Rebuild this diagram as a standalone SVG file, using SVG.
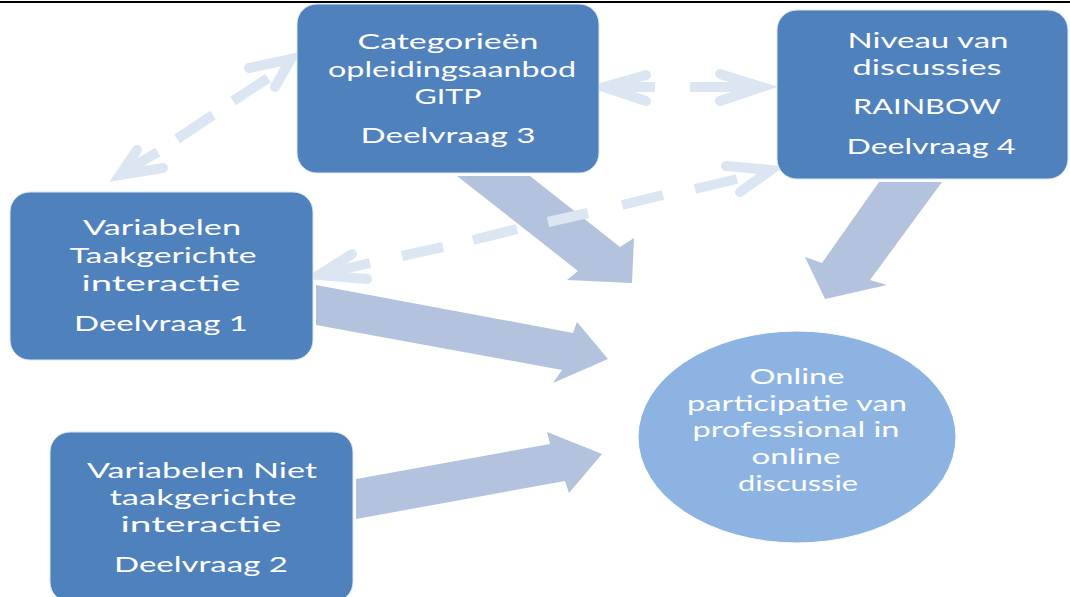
<svg xmlns="http://www.w3.org/2000/svg" width="1070" height="597" viewBox="0 0 1070 597">
<style>
.box{fill:#4F81BD;stroke:#DCE6F2;stroke-width:1}
.ell{fill:#8DB3E2;stroke:#ffffff;stroke-width:1}
.t{font-family:Lato,"Open Sans","DejaVu Sans",sans-serif;font-size:22px;fill:#ffffff;text-anchor:middle}
.sol{fill:#B3C3DD}
.dash{fill:none;stroke:#DCE6F2;stroke-width:10;stroke-linecap:butt}
.chev{fill:none;stroke:#DCE6F2;stroke-width:10;stroke-linecap:round;stroke-linejoin:miter}
</style>
<rect x="0" y="0" width="1070" height="597" fill="#ffffff"/>
<line x1="0" y1="2" x2="1070" y2="2" stroke="#000000" stroke-width="2"/>
<g id="connectors">
  <polygon class="sol" points="457,176 530,176 620,247 634,238 632,283 567,280 578,271"/>
  <polygon class="sol" points="316,285 573,333 577,322 608,359 553,383 562,370 316,325"/>
  <polygon class="sol" points="356,479 550,444 547,432 602,454 569,493 565,481 356,519"/>
  <polygon class="sol" points="879,182 942,182 870,280 887,285 825,299 805,257 822,263"/>
  <!-- Cat <-> Var1 -->
  <polyline class="chev" points="137,150 120,175 163,168"/>
  <line class="dash" x1="122" y1="173" x2="158" y2="152"/>
  <line class="dash" x1="177" y1="139" x2="213" y2="115"/>
  <line class="dash" x1="233" y1="101" x2="268" y2="78"/>
  <polyline class="chev" points="249,68 291,59 275,87"/>
  <!-- Cat <-> Niveau -->
  <polyline class="chev" points="646,75 604,87 646,101"/>
  <line class="dash" x1="606" y1="87" x2="655" y2="87"/>
  <line class="dash" x1="690" y1="87" x2="760" y2="87"/>
  <polyline class="chev" points="720,74 762,87 720,101"/>
  <!-- Niveau <-> Var1 -->
  <polyline class="chev" points="352,254 319,275 367,279"/>
  <line class="dash" x1="322" y1="274" x2="370" y2="263"/>
  <line class="dash" x1="402" y1="256" x2="443" y2="247"/>
  <line class="dash" x1="473" y1="240" x2="517" y2="229"/>
  <line class="dash" x1="548" y1="222" x2="588" y2="213"/>
  <line class="dash" x1="622" y1="205" x2="663" y2="195"/>
  <line class="dash" x1="695" y1="189" x2="737" y2="179"/>
  <polyline class="chev" points="726,166 771,170 740,192"/>
</g>
<g id="node-categorieen">
  <rect class="box" x="297" y="4" width="302" height="169" rx="20"/>
  <text class="t" x="448" y="49" textLength="181" lengthAdjust="spacingAndGlyphs">Categorieën</text>
  <text class="t" x="452" y="77" textLength="248" lengthAdjust="spacingAndGlyphs">opleidingsaanbod</text>
  <text class="t" x="448" y="104" textLength="67" lengthAdjust="spacingAndGlyphs">GITP</text>
  <text class="t" x="448" y="143" textLength="175" lengthAdjust="spacingAndGlyphs">Deelvraag 3</text>
</g>
<g id="node-niveau">
  <rect class="box" x="777" y="10" width="291" height="169" rx="20"/>
  <text class="t" x="928" y="48" textLength="161" lengthAdjust="spacingAndGlyphs">Niveau van</text>
  <text class="t" x="927" y="75" textLength="149" lengthAdjust="spacingAndGlyphs">discussies</text>
  <text class="t" x="927" y="114" textLength="148" lengthAdjust="spacingAndGlyphs">RAINBOW</text>
  <text class="t" x="931" y="154" textLength="169" lengthAdjust="spacingAndGlyphs">Deelvraag 4</text>
</g>
<g id="node-var1">
  <rect class="box" x="10" y="192" width="303" height="168" rx="20"/>
  <text class="t" x="162" y="235" textLength="158" lengthAdjust="spacingAndGlyphs">Variabelen</text>
  <text class="t" x="163" y="263" textLength="187" lengthAdjust="spacingAndGlyphs">Taakgerichte</text>
  <text class="t" x="161" y="291" textLength="159" lengthAdjust="spacingAndGlyphs">interactie</text>
  <text class="t" x="161" y="331" textLength="174" lengthAdjust="spacingAndGlyphs">Deelvraag 1</text>
</g>
<g id="node-var2">
  <rect class="box" x="50" y="432" width="303" height="170" rx="20"/>
  <text class="t" x="202" y="478" textLength="230" lengthAdjust="spacingAndGlyphs">Variabelen Niet</text>
  <text class="t" x="203" y="505" textLength="187" lengthAdjust="spacingAndGlyphs">taakgerichte</text>
  <text class="t" x="201" y="532" textLength="161" lengthAdjust="spacingAndGlyphs">interactie</text>
  <text class="t" x="201" y="572" textLength="174" lengthAdjust="spacingAndGlyphs">Deelvraag 2</text>
</g>
<g id="node-online">
  <ellipse class="ell" cx="797" cy="437" rx="159" ry="106"/>
  <text class="t" x="797" y="384" textLength="95" lengthAdjust="spacingAndGlyphs">Online</text>
  <text class="t" x="797" y="411" textLength="220" lengthAdjust="spacingAndGlyphs">participatie van</text>
  <text class="t" x="796" y="437" textLength="207" lengthAdjust="spacingAndGlyphs">professional in</text>
  <text class="t" x="796" y="464" textLength="89" lengthAdjust="spacingAndGlyphs">online</text>
  <text class="t" x="798" y="491" textLength="120" lengthAdjust="spacingAndGlyphs">discussie</text>
</g>
</svg>
